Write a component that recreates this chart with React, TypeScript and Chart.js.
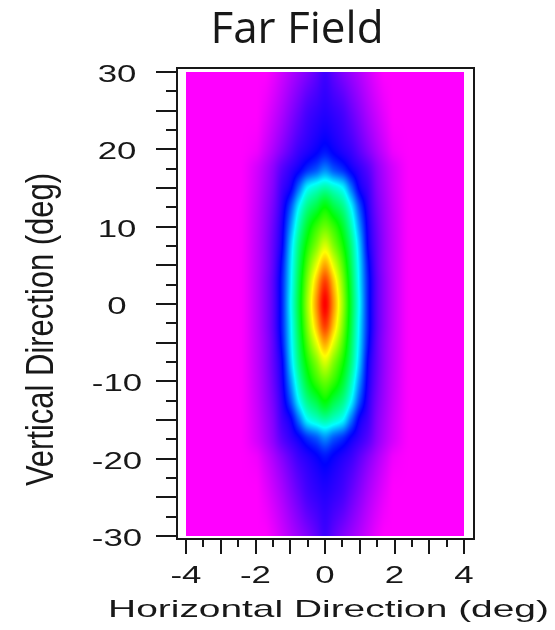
import React, { useEffect, useRef } from "react";
import { Chart, registerables } from "chart.js";

Chart.register(...registerables);

// ---- text ----
const TITLE = "Far Field";
const X_TITLE = "Horizontal Direction (deg)";
const Y_TITLE = "Vertical Direction (deg)";

// ---- axis ticks ----
const xLabelTicks = [-4, -2, 0, 2, 4];
const xMajorTicks = [-4, -3, -2, -1, 0, 1, 2, 3, 4];
const xMinorTicks = [-3.5, -2.5, -1.5, -0.5, 0.5, 1.5, 2.5, 3.5];
const yLabelTicks = [-30, -20, -10, 0, 10, 20, 30];
const yMajorTicks = [-30, -25, -20, -15, -10, -5, 0, 5, 10, 15, 20, 25, 30];
const yMinorTicks = [-27.5, -22.5, -17.5, -12.5, -7.5, -2.5, 2.5, 7.5, 12.5, 17.5, 22.5, 27.5];

// ---- far-field map: normalised level (0 = floor, 1 = peak) on a grid ----
// horizontal angles (deg), one per column
const gridX = [-4, -3, -2.5, -2, -1.75, -1.5, -1.25, -1, -0.75, -0.5, -0.25, 0, 0.25, 0.5, 0.75, 1, 1.25, 1.5, 1.75, 2, 2.5, 3, 4];
// vertical angles (deg), one per row, top to bottom
const gridY = [30, 25, 20, 17.5, 15, 12.5, 10, 7.5, 5, 2.5, 0, -2.5, -5, -7.5, -10, -12.5, -15, -17.5, -20, -25, -30];

const rowP30 = [0, 0, 0, 0, 0, 0.014, 0.036, 0.058, 0.079, 0.1, 0.125, 0.15, 0.125, 0.1, 0.079, 0.058, 0.036, 0.014, 0, 0, 0, 0, 0];
const rowP25 = [0, 0, 0, 0, 0.014, 0.036, 0.061, 0.089, 0.117, 0.144, 0.159, 0.17, 0.159, 0.144, 0.117, 0.089, 0.061, 0.036, 0.014, 0, 0, 0, 0];
const rowP20 = [0, 0, 0, 0.01, 0.035, 0.063, 0.094, 0.125, 0.154, 0.173, 0.192, 0.21, 0.192, 0.173, 0.154, 0.125, 0.094, 0.063, 0.035, 0.01, 0, 0, 0];
const rowP175 = [0, 0, 0, 0.03, 0.056, 0.088, 0.13, 0.16, 0.19, 0.23, 0.26, 0.3, 0.26, 0.23, 0.19, 0.16, 0.13, 0.088, 0.056, 0.03, 0, 0, 0];
const rowP15 = [0, 0, 0, 0.034, 0.063, 0.097, 0.15, 0.19, 0.29, 0.4, 0.44, 0.47, 0.44, 0.4, 0.29, 0.19, 0.15, 0.097, 0.063, 0.034, 0, 0, 0];
const rowP125 = [0, 0, 0, 0.038, 0.069, 0.107, 0.166, 0.26, 0.4, 0.5, 0.55, 0.6, 0.55, 0.5, 0.4, 0.26, 0.166, 0.107, 0.069, 0.038, 0, 0, 0];
const rowP10 = [0, 0, 0, 0.041, 0.073, 0.116, 0.18, 0.31, 0.46, 0.57, 0.64, 0.68, 0.64, 0.57, 0.46, 0.31, 0.18, 0.116, 0.073, 0.041, 0, 0, 0];
const rowP75 = [0, 0, 0, 0.043, 0.076, 0.122, 0.19, 0.35, 0.505, 0.62, 0.7, 0.77, 0.7, 0.62, 0.505, 0.35, 0.19, 0.122, 0.076, 0.043, 0, 0, 0];
const rowP5 = [0, 0, 0, 0.044, 0.077, 0.125, 0.21, 0.37, 0.53, 0.67, 0.78, 0.87, 0.78, 0.67, 0.53, 0.37, 0.21, 0.125, 0.077, 0.044, 0, 0, 0];
const rowP25s = [0, 0, 0, 0.045, 0.08, 0.13, 0.22, 0.38, 0.55, 0.71, 0.85, 0.96, 0.85, 0.71, 0.55, 0.38, 0.22, 0.13, 0.08, 0.045, 0, 0, 0];
const row0 = [0, 0, 0, 0.045, 0.08, 0.13, 0.22, 0.39, 0.56, 0.73, 0.88, 1, 0.88, 0.73, 0.56, 0.39, 0.22, 0.13, 0.08, 0.045, 0, 0, 0];
const rowM25s = [0, 0, 0, 0.045, 0.08, 0.13, 0.22, 0.38, 0.55, 0.71, 0.85, 0.96, 0.85, 0.71, 0.55, 0.38, 0.22, 0.13, 0.08, 0.045, 0, 0, 0];
const rowM5 = [0, 0, 0, 0.044, 0.077, 0.125, 0.21, 0.37, 0.53, 0.67, 0.78, 0.87, 0.78, 0.67, 0.53, 0.37, 0.21, 0.125, 0.077, 0.044, 0, 0, 0];
const rowM75 = [0, 0, 0, 0.043, 0.076, 0.122, 0.19, 0.35, 0.505, 0.62, 0.7, 0.77, 0.7, 0.62, 0.505, 0.35, 0.19, 0.122, 0.076, 0.043, 0, 0, 0];
const rowM10 = [0, 0, 0, 0.041, 0.073, 0.116, 0.18, 0.31, 0.46, 0.57, 0.64, 0.68, 0.64, 0.57, 0.46, 0.31, 0.18, 0.116, 0.073, 0.041, 0, 0, 0];
const rowM125 = [0, 0, 0, 0.038, 0.069, 0.107, 0.166, 0.26, 0.4, 0.5, 0.55, 0.6, 0.55, 0.5, 0.4, 0.26, 0.166, 0.107, 0.069, 0.038, 0, 0, 0];
const rowM15 = [0, 0, 0, 0.034, 0.063, 0.097, 0.15, 0.19, 0.29, 0.4, 0.44, 0.47, 0.44, 0.4, 0.29, 0.19, 0.15, 0.097, 0.063, 0.034, 0, 0, 0];
const rowM175 = [0, 0, 0, 0.03, 0.056, 0.088, 0.13, 0.16, 0.19, 0.23, 0.26, 0.3, 0.26, 0.23, 0.19, 0.16, 0.13, 0.088, 0.056, 0.03, 0, 0, 0];
const rowM20 = [0, 0, 0, 0.01, 0.035, 0.063, 0.094, 0.125, 0.154, 0.173, 0.192, 0.21, 0.192, 0.173, 0.154, 0.125, 0.094, 0.063, 0.035, 0.01, 0, 0, 0];
const rowM25 = [0, 0, 0, 0, 0.014, 0.036, 0.061, 0.089, 0.117, 0.144, 0.159, 0.17, 0.159, 0.144, 0.117, 0.089, 0.061, 0.036, 0.014, 0, 0, 0, 0];
const rowM30 = [0, 0, 0, 0, 0, 0.014, 0.036, 0.058, 0.079, 0.1, 0.125, 0.15, 0.125, 0.1, 0.079, 0.058, 0.036, 0.014, 0, 0, 0, 0, 0];

const levels = [
  rowP30, rowP25, rowP20, rowP175, rowP15, rowP125, rowP10, rowP75, rowP5, rowP25s, row0,
  rowM25s, rowM5, rowM75, rowM10, rowM125, rowM15, rowM175, rowM20, rowM25, rowM30,
];

const INK = "#181818";
const TICK_FONT = '24px "Liberation Sans", Arial, sans-serif';
const TITLE_FONT = '24px "Liberation Sans", Arial, sans-serif';

// magenta (0) -> blue -> cyan -> green -> yellow -> red (1)
function rainbow(t: number): [number, number, number] {
  const h = (300 * (1 - Math.min(1, Math.max(0, t)))) / 60;
  const i = Math.floor(h);
  const f = h - i;
  let r = 1, g = 0, b = 1;
  switch (i) {
    case 0: r = 1; g = f; b = 0; break;
    case 1: r = 1 - f; g = 1; b = 0; break;
    case 2: r = 0; g = 1; b = f; break;
    case 3: r = 0; g = 1 - f; b = 1; break;
    case 4: r = f; g = 0; b = 1; break;
    default: r = 1; g = 0; b = 1;
  }
  return [Math.round(r * 255), Math.round(g * 255), Math.round(b * 255)];
}

// monotone cubic (Fritsch–Carlson) slopes for ascending knots
function pchipSlopes(xs: number[], vs: number[]): number[] {
  const n = xs.length;
  const h: number[] = [], dl: number[] = [];
  for (let k = 0; k < n - 1; k++) {
    h.push(xs[k + 1] - xs[k]);
    dl.push((vs[k + 1] - vs[k]) / h[k]);
  }
  const d = new Array(n).fill(0);
  d[0] = dl[0];
  d[n - 1] = dl[n - 2];
  for (let k = 1; k < n - 1; k++) {
    if (dl[k - 1] * dl[k] <= 0) d[k] = 0;
    else {
      const w1 = 2 * h[k] + h[k - 1], w2 = h[k] + 2 * h[k - 1];
      d[k] = (w1 + w2) / (w1 / dl[k - 1] + w2 / dl[k]);
    }
  }
  return d;
}

function pchipEval(xs: number[], vs: number[], d: number[], x: number): number {
  const n = xs.length;
  if (x <= xs[0]) return vs[0];
  if (x >= xs[n - 1]) return vs[n - 1];
  let k = 0;
  while (k < n - 2 && x > xs[k + 1]) k++;
  const hk = xs[k + 1] - xs[k];
  const t = (x - xs[k]) / hk;
  const t2 = t * t, t3 = t2 * t;
  return (2 * t3 - 3 * t2 + 1) * vs[k] + (t3 - 2 * t2 + t) * hk * d[k] +
    (-2 * t3 + 3 * t2) * vs[k + 1] + (t3 - t2) * hk * d[k + 1];
}

const mapPlugin = {
  id: "farFieldMap",
  beforeDatasetsDraw(chart: any) {
    const { ctx, chartArea: a, scales } = chart;
    const left = Math.round(a.left), top = Math.round(a.top);
    const w = Math.round(a.right) - left;
    const h = Math.round(a.bottom) - top;
    const off = document.createElement("canvas");
    off.width = w;
    off.height = h;
    const octx = off.getContext("2d")!;
    const img = octx.createImageData(w, h);

    const rowSlopes = levels.map((row) => pchipSlopes(gridX, row));
    const yAsc = gridY.slice().reverse();
    const yVals: number[] = [];
    for (let j = 0; j < h; j++) yVals.push(scales.y.getValueForPixel(top + j + 0.5));

    for (let i = 0; i < w; i++) {
      const xv = scales.x.getValueForPixel(left + i + 0.5);
      const col = levels.map((row, r) => pchipEval(gridX, row, rowSlopes[r], xv)).reverse();
      const colSlopes = pchipSlopes(yAsc, col);
      for (let j = 0; j < h; j++) {
        const v = pchipEval(yAsc, col, colSlopes, yVals[j]);
        const [r, g, b] = rainbow(v);
        const p = (j * w + i) * 4;
        img.data[p] = r;
        img.data[p + 1] = g;
        img.data[p + 2] = b;
        img.data[p + 3] = 255;
      }
    }
    octx.putImageData(img, 0, 0);
    ctx.drawImage(off, left, top);
  },
};

function drawText(
  ctx: CanvasRenderingContext2D, text: string, x: number, y: number, font: string,
  sx: number, sy: number, align: CanvasTextAlign, rotation = 0,
) {
  ctx.save();
  ctx.translate(x, y);
  if (rotation) ctx.rotate(rotation);
  ctx.scale(sx, sy);
  ctx.font = font;
  ctx.fillStyle = INK;
  ctx.textAlign = align;
  ctx.textBaseline = "alphabetic";
  ctx.fillText(text, 0, 0);
  ctx.restore();
}

const fmt = (v: number) => String(v);

const framePlugin = {
  id: "frameAndAxes",
  afterDraw(chart: any) {
    const { ctx, chartArea: a, scales } = chart;
    const fL = a.left - 9, fT = a.top - 4, fR = a.right + 10, fB = a.bottom + 3;
    ctx.save();
    ctx.strokeStyle = INK;
    ctx.lineWidth = 2;
    ctx.strokeRect(fL, fT, fR - fL, fB - fT);

    ctx.beginPath();
    for (const v of yMajorTicks) {
      const py = Math.round(scales.y.getPixelForValue(v));
      ctx.moveTo(fL - 21, py); ctx.lineTo(fL, py);
    }
    for (const v of yMinorTicks) {
      const py = Math.round(scales.y.getPixelForValue(v));
      ctx.moveTo(fL - 11, py); ctx.lineTo(fL, py);
    }
    for (const v of xMajorTicks) {
      const px = Math.round(scales.x.getPixelForValue(v));
      ctx.moveTo(px, fB); ctx.lineTo(px, fB + 15);
    }
    for (const v of xMinorTicks) {
      const px = Math.round(scales.x.getPixelForValue(v));
      ctx.moveTo(px, fB); ctx.lineTo(px, fB + 8);
    }
    ctx.stroke();
    ctx.restore();

    for (const v of yLabelTicks) {
      const py = scales.y.getPixelForValue(v);
      drawText(ctx, fmt(v), a.left - 69, py + 10, TICK_FONT, 1.45, 1, "center");
    }
    for (const v of xLabelTicks) {
      const px = scales.x.getPixelForValue(v);
      drawText(ctx, fmt(v), px, a.bottom + 47, TICK_FONT, 1.45, 1, "center");
    }

    drawText(ctx, X_TITLE, 328.5, 617, TITLE_FONT, 1.62, 1, "center");
    drawText(ctx, Y_TITLE, 53, 329.5, TITLE_FONT, 1.29, 1.6, "center", -Math.PI / 2);
    drawText(ctx, TITLE, 297, 43, '44px "Open Sans", "Noto Sans", sans-serif', 1, 1, "center");
  },
};

export default function App() {
  const ref = useRef<HTMLCanvasElement | null>(null);

  useEffect(() => {
    if (!ref.current) return;
    const nodes: { x: number; y: number }[] = [];
    gridY.forEach((y) => gridX.forEach((x) => nodes.push({ x, y })));
    const chart = new Chart(ref.current, {
      type: "scatter",
      data: { datasets: [{ data: nodes, pointRadius: 0, pointHoverRadius: 0 }] },
      options: {
        responsive: false,
        animation: false,
        devicePixelRatio: 1,
        events: [],
        layout: { padding: { left: 186, top: 72, right: 91, bottom: 94 } },
        scales: {
          x: { type: "linear", min: -4, max: 4, display: false },
          y: { type: "linear", min: -30, max: 30, display: false },
        },
        plugins: {
          legend: { display: false },
          title: { display: false },
          tooltip: { enabled: false },
        },
      },
      plugins: [mapPlugin, framePlugin],
    });
    return () => chart.destroy();
  }, []);

  return (
    <div style={{ position: "absolute", left: 0, top: 0, width: 555, height: 630, background: "#fff" }}>
      <canvas ref={ref} width={555} height={630} style={{ display: "block" }} />
    </div>
  );
}
